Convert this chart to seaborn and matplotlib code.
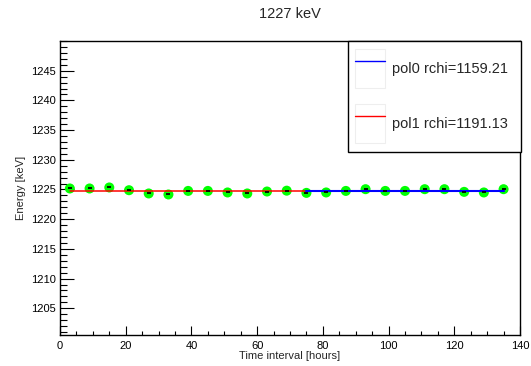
import matplotlib
matplotlib.use("Agg")
import matplotlib.pyplot as plt
import seaborn as sns
import pandas as pd
import numpy as np
from matplotlib.patches import Rectangle
from matplotlib.lines import Line2D
from matplotlib.legend_handler import HandlerTuple
from matplotlib.ticker import MultipleLocator

# measured peak positions per time interval
hours = [3, 9, 15, 21, 27, 33, 39, 45, 51, 57, 63, 69, 75, 81, 87, 93, 99, 105, 111, 117, 123, 129, 135]
energy = [1225.17, 1225.17, 1225.34, 1224.88, 1224.33, 1224.16, 1224.76, 1224.76, 1224.50, 1224.33,
          1224.66, 1224.80, 1224.43, 1224.50, 1224.76, 1225.05, 1224.76, 1224.76, 1225.05, 1225.05,
          1224.60, 1224.50, 1225.05]
hour_err = [0.6] * len(hours)

# fit results
pol0_value = 1224.82
pol0_range = [75, 135]
pol1_intercept = 1224.72
pol1_slope = 0.0
pol1_range = [3, 135]
fit_labels = ["pol0 rchi=1159.21", "pol1 rchi=1191.13"]
title = "1227 keV"

sns.set_style("ticks")
plt.rcParams['font.family'] = ['Liberation Sans', 'DejaVu Sans']

df = pd.DataFrame({'hours': hours, 'energy': energy})
fit0 = pd.DataFrame({'hours': pol0_range, 'energy': [pol0_value] * 2})
fit1 = pd.DataFrame({'hours': pol1_range,
                     'energy': [pol1_intercept + pol1_slope * h for h in pol1_range]})

fig = plt.figure(figsize=(5.31, 3.66), dpi=100)
ax = fig.add_axes([60 / 531, 31 / 366, 460 / 531, 294 / 366])

sns.scatterplot(data=df, x='hours', y='energy', color='#00ff00', s=52, linewidth=0,
                edgecolor='none', ax=ax, zorder=2)
sns.lineplot(data=fit1, x='hours', y='energy', color='#ff0000', lw=1.1, ax=ax, zorder=3)
sns.lineplot(data=fit0, x='hours', y='energy', color='#0000ff', lw=1.5, ax=ax, zorder=3)
ax.errorbar(hours, energy, xerr=hour_err, fmt='none', ecolor='black', elinewidth=1.3, zorder=4)

ax.set_xlim(0, 140)
ax.set_ylim(1200.5, 1250)
ax.xaxis.set_major_locator(MultipleLocator(20))
ax.xaxis.set_minor_locator(MultipleLocator(5))
ax.yaxis.set_minor_locator(MultipleLocator(1))
ax.set_yticks(np.arange(1205, 1250, 5))

for s in ax.spines.values():
    s.set_visible(True)
    s.set_linewidth(1.0)
    s.set_color('black')
ax.tick_params(axis='both', which='both', direction='in', width=0.8, colors='black', labelsize=8)
ax.tick_params(axis='x', which='major', length=6.5, pad=4)
ax.tick_params(axis='x', which='minor', length=3.2)
ax.tick_params(axis='y', which='major', length=10, pad=3)
ax.tick_params(axis='y', which='minor', length=5)

ax.set_xlabel("Time interval [hours]", fontsize=8)
ax.set_ylabel("Energy [keV]", fontsize=8)
ax.xaxis.set_label_coords(0.5, -0.055)
ax.yaxis.set_label_coords(-0.075, 0.5)

fig.text(290 / 531, 1 - 14 / 366, title, ha='center', va='center', fontsize=10.5)

# legend box like ROOT TLegend
fig.patches.append(Rectangle((348 / 531, 1 - 152 / 366), 173 / 531, 111 / 366,
                             transform=fig.transFigure, facecolor='white',
                             edgecolor='black', lw=1.0, zorder=5))
handles = []
for c in ['#0000ff', '#ff0000']:
    box = Rectangle((0, 0), 1, 1, facecolor='white', edgecolor='#eeeeee', lw=0.8)
    handles.append((box, Line2D([0], [0], color=c, lw=1.0)))
leg = fig.legend(handles, fit_labels, loc='upper left',
                 bbox_to_anchor=(355 / 531, 1 - 49 / 366), bbox_transform=fig.transFigure,
                 frameon=False, fontsize=10.5, borderpad=0, borderaxespad=0,
                 handlelength=2.06, handleheight=3.74, labelspacing=1.1, handletextpad=0.48,
                 handler_map={tuple: HandlerTuple(ndivide=1)})
leg.set_zorder(6)

fig.savefig("out.png", dpi=100)
